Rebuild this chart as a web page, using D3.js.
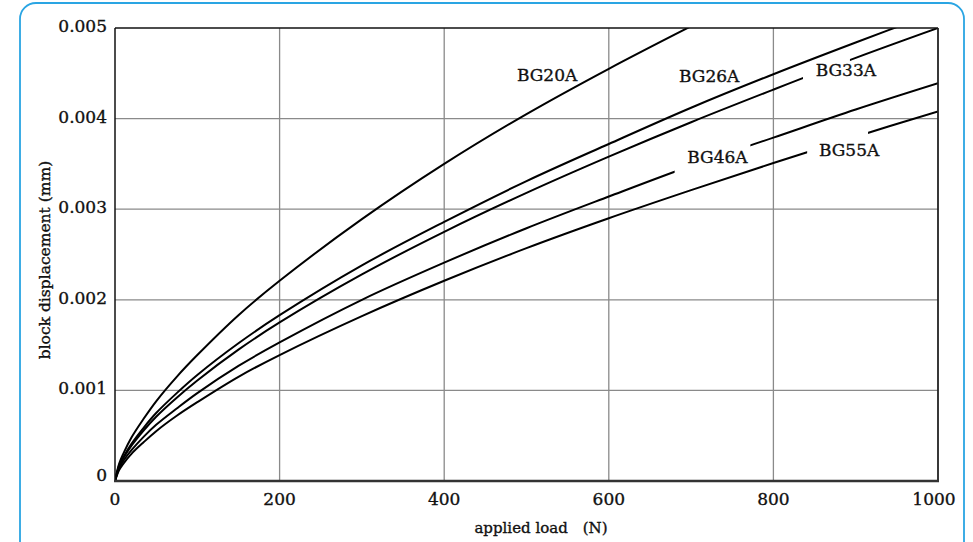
<!DOCTYPE html>
<html>
<head>
<meta charset="utf-8">
<script src="https://cdn.jsdelivr.net/npm/d3@7/dist/d3.min.js"></script>
<style>
  html, body { margin: 0; padding: 0; background: #fff; }
  svg text { font-family: "DejaVu Serif", serif; fill: #111; stroke: #111; stroke-width: 0.35px; }
</style>
</head>
<body>
<svg id="chart" width="973" height="542"></svg>
<script>
// load values (N)
const loads = [0, 5, 10, 20, 35, 50, 75, 100, 150, 200, 300, 400, 500, 600, 700, 800, 900, 1000];

// block displacement, in units of 0.001 mm
const bg20a = [0, 0.19, 0.30, 0.48, 0.69, 0.88, 1.15, 1.39, 1.83, 2.21, 2.89, 3.50, 4.05, 4.55, 5.02, null, null, null];
const bg26a = [0, 0.17, 0.26, 0.41, 0.59, 0.75, 0.97, 1.17, 1.52, 1.83, 2.38, 2.86, 3.31, 3.72, 4.12, 4.49, 4.84, 5.18];
const bg33a = [0, 0.16, 0.25, 0.39, 0.56, 0.71, 0.92, 1.11, 1.45, 1.75, 2.28, 2.75, 3.18, 3.58, 3.96, 4.32, 4.67, 5.00];
const bg46a = [0, 0.14, 0.22, 0.34, 0.49, 0.62, 0.80, 0.97, 1.27, 1.53, 2.00, 2.41, 2.79, 3.14, 3.48, 3.79, 4.10, 4.39];
const bg55a = [0, 0.12, 0.19, 0.30, 0.43, 0.55, 0.72, 0.87, 1.15, 1.39, 1.82, 2.21, 2.57, 2.90, 3.21, 3.51, 3.80, 4.08];

const seriesNames = ["BG20A", "BG26A", "BG33A", "BG46A", "BG55A"];
const seriesValues = [bg20a, bg26a, bg33a, bg46a, bg55a];

// ticks
const xTicks = [0, 200, 400, 600, 800, 1000];
const yTicks = [0, 0.001, 0.002, 0.003, 0.004, 0.005];

// label anchors (load, displacement) and the break left in the curve for the label
const labelLoad = [525, 722, 888, 732, 892];
const labelDisp = [0.00441, 0.00440, 0.004465, 0.003506, 0.00359];
const gapFrom = [null, null, 836, 680, 841];
const gapTo = [null, null, 893, 772, 915];

const margin = { top: 28, right: 35, bottom: 61, left: 115 };
const W = 973, H = 542;
const width = W - margin.left - margin.right;
const height = H - margin.top - margin.bottom;

const svg = d3.select("#chart");

// rounded blue frame
svg.append("rect")
    .attr("x", 20).attr("y", 3)
    .attr("width", 944).attr("height", 570)
    .attr("rx", 16)
    .attr("fill", "none")
    .attr("stroke", "#2aa5e3")
    .attr("stroke-width", 1.8);

const g = svg.append("g").attr("transform", `translate(${margin.left},${margin.top})`);

const x = d3.scaleLinear().domain([0, 1000]).range([0, width]);
const y = d3.scaleLinear().domain([0, 0.005]).range([height, 0]);

// grid
g.selectAll(".gx").data(xTicks.slice(1, -1)).enter().append("line")
    .attr("x1", d => x(d)).attr("x2", d => x(d))
    .attr("y1", 0).attr("y2", height)
    .attr("stroke", "#8a8a8a").attr("stroke-width", 1.3);
g.selectAll(".gy").data(yTicks.slice(1, -1)).enter().append("line")
    .attr("x1", 0).attr("x2", width)
    .attr("y1", d => y(d)).attr("y2", d => y(d))
    .attr("stroke", "#8a8a8a").attr("stroke-width", 1.3);

// clip paths: plot area, and per-series break around labels
const defs = svg.append("defs");
seriesNames.forEach((name, i) => {
    const cp = defs.append("clipPath").attr("id", "clip-" + i);
    if (gapFrom[i] == null) {
        cp.append("rect").attr("x", 0).attr("y", 0).attr("width", width).attr("height", height);
    } else {
        cp.append("rect").attr("x", 0).attr("y", 0)
            .attr("width", x(gapFrom[i])).attr("height", height);
        cp.append("rect").attr("x", x(gapTo[i])).attr("y", 0)
            .attr("width", width - x(gapTo[i])).attr("height", height);
    }
});

const line = d3.line()
    .defined(d => d.v != null)
    .x(d => x(d.f))
    .y(d => y(d.v / 1000))
    .curve(d3.curveCatmullRom.alpha(0.5));

seriesValues.forEach((vals, i) => {
    const pts = loads.map((f, j) => ({ f: f, v: vals[j] }));
    g.append("path")
        .datum(pts)
        .attr("clip-path", `url(#clip-${i})`)
        .attr("fill", "none")
        .attr("stroke", "#000")
        .attr("stroke-width", 2)
        .attr("d", line);
});

// plot frame
g.append("line").attr("x1", 0).attr("x2", width).attr("y1", 0).attr("y2", 0)
    .attr("stroke", "#111").attr("stroke-width", 1.5);
g.append("line").attr("x1", width).attr("x2", width).attr("y1", 0).attr("y2", height)
    .attr("stroke", "#222").attr("stroke-width", 1.8);
g.append("line").attr("x1", 0).attr("x2", 0).attr("y1", 0).attr("y2", height)
    .attr("stroke", "#111").attr("stroke-width", 1.5);
g.append("line").attr("x1", -1).attr("x2", width + 1).attr("y1", height).attr("y2", height)
    .attr("stroke", "#333").attr("stroke-width", 2.5);

// tick labels
g.selectAll(".xt").data(xTicks).enter().append("text")
    .attr("x", d => x(d) - (d === 1000 ? 4 : 0))
    .attr("y", height + 24)
    .attr("text-anchor", "middle")
    .attr("font-size", "17px")
    .text(d => d);

g.selectAll(".yt").data(yTicks).enter().append("text")
    .attr("x", -8)
    .attr("y", d => y(d) + (d === 0 ? 0 : 4))
    .attr("text-anchor", "end")
    .attr("font-size", "17px")
    .text(d => d === 0 ? "0" : d3.format(".3f")(d));

// series labels
g.selectAll(".lbl").data(seriesNames).enter().append("text")
    .attr("x", (d, i) => x(labelLoad[i]))
    .attr("y", (d, i) => y(labelDisp[i]))
    .attr("text-anchor", "middle")
    .attr("font-size", "17px")
    .text(d => d);

// axis titles
svg.append("text")
    .attr("x", 541)
    .attr("y", 533)
    .attr("text-anchor", "middle")
    .attr("font-size", "15px")
    .attr("xml:space", "preserve")
    .text("applied load\u2003(N)");

svg.append("text")
    .attr("transform", "translate(50,260) rotate(-90)")
    .attr("text-anchor", "middle")
    .attr("font-size", "15.5px")
    .text("block displacement (mm)");
</script>
</body>
</html>
